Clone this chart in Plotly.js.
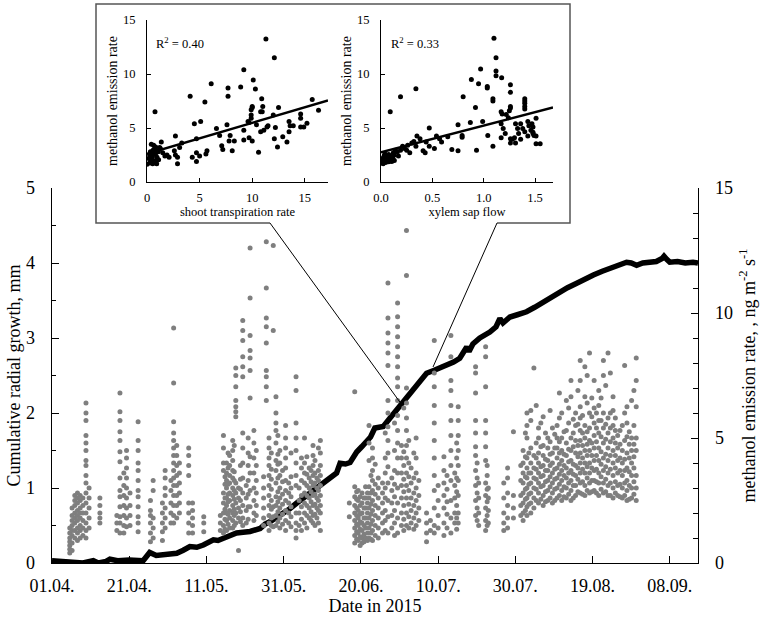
<!DOCTYPE html>
<html>
<head>
<meta charset="utf-8">
<script src="https://cdn.plot.ly/plotly-3.0.1.min.js"></script>
<style>
html,body{margin:0;padding:0;background:#fff;}
#chart{width:765px;height:622px;}
</style>
</head>
<body>
<div id="chart"></div>
<script>
// ---------- main chart data ----------
// days counted from 01.04.2015
const tickDays = [0, 20, 40, 60, 80, 100, 120, 140, 160];
const tickLabels = ["01.04.", "21.04.", "11.05.", "31.05.", "20.06.", "10.07.", "30.07.", "19.08.", "08.09."];

// cumulative radial growth (mm)
const growthDay = [0,2,5,8,10.7,12,14,15,17,20,23.6,24.5,25.3,27,28.8,30.5,32.3,34,35.7,37.5,39.2,41.8,43,44.4,46,47.8,49.5,51.3,53.9,55.2,56.4,58,59.9,61.5,63.4,65,66.8,68.5,70.2,72,73.7,74.6,76,77.2,78.9,80.2,81.5,82.5,83.6,85.8,87.5,89.3,91,92.7,95,97,99,100.5,102.2,104,105.6,106.5,107.4,108,109,110.8,112,113.4,115,116,116.8,118.6,120.5,122.9,125,127.2,129.5,131.5,133.5,135.9,138,140.2,142.5,144.5,146.5,148.8,150,151.4,153,154.8,156.5,158,158.5,159.2,160,162,164,166,167.3];
const growthMm = [0.03,0.02,0.0,0.0,0.03,0.0,0.02,0.05,0.03,0.04,0.03,0.08,0.14,0.10,0.11,0.12,0.13,0.17,0.22,0.21,0.24,0.31,0.30,0.33,0.36,0.40,0.41,0.42,0.46,0.52,0.55,0.60,0.66,0.72,0.80,0.86,0.93,0.99,1.06,1.12,1.20,1.33,1.32,1.34,1.48,1.55,1.64,1.68,1.80,1.82,1.93,2.04,2.15,2.26,2.40,2.53,2.57,2.60,2.64,2.68,2.73,2.82,2.88,2.82,2.92,3.00,3.03,3.08,3.15,3.26,3.20,3.28,3.31,3.35,3.41,3.48,3.55,3.62,3.67,3.73,3.79,3.84,3.89,3.93,3.97,4.01,4.00,3.97,4.00,4.01,4.02,4.06,4.09,4.05,4.01,4.02,4.00,4.01,4.00];

// methanol emission rate (ng m-2 s-1), grouped by day column
const methDays = [4.6,5.2,5.9,6.6,7.3,8.0,8.8,9.6,12.4,16.8,17.6,18.6,19.3,20.2,22.3,25.5,26.2,28.6,29.3,30.8,31.5,32.3,33.0,35.4,36.4,39.3,43.6,44.4,45.2,46.0,46.8,47.6,48.3,49.4,50.3,51.3,52.3,54.8,55.5,56.2,57.3,58.0,59.0,60.5,61.3,63.2,64.0,65.4,66.6,67.6,68.6,69.5,77.0,78.4,79.3,80.3,81.2,82.1,83.0,84.5,85.6,87.0,88.0,89.5,90.5,91.8,93.0,94.3,97.0,98.0,99.0,100.0,101.5,103.3,104.3,105.2,109.7,110.5,112.3,113.0,117.0,118.0,119.5,122.0,123.0,124.0,124.8,126.0,127.2,128.4,129.6,130.8,132.0,133.2,134.4,135.6,136.8,138.0,139.2,140.4,141.6,142.8,144.0,145.3,146.5,147.7,148.9,150.1,151.3,
  121.4,122.6,123.5,125.4,126.6,127.8,129.0,130.2,131.4,132.6,133.8,135.0,136.2,137.4,138.6,139.8,141.0,142.2,143.4,144.6,145.9,147.1,148.3,149.5,150.7,
  44.8,45.6,47.2,48.8,50.8,52.9,56.8,58.5,59.7,61.9,64.6,66.0,67.1,68.1,69.0,78.9,79.8,80.8,81.7,82.6,83.7,86.3,88.7,91.1,92.4,93.7,95.0,102.3,104.8,110.1,112.7];
const methVals = [
[0.4,0.55,0.7,0.85,1.0,1.2,1.4],
[0.5,0.8,1.1,1.3,1.5,1.7,1.9,2.2],
[1.0,1.3,1.6,1.8,2.0,2.3,2.5,2.7],
[0.9,1.2,1.4,1.7,1.9,2.1,2.4,2.6,2.8],
[1.0,1.3,1.5,1.8,2.0,2.2,2.5,2.7],
[1.1,1.4,1.7,2.0,2.3,2.6],
[1.0,1.3,1.6,2.0,2.4,2.8,3.2,3.5,3.9,4.1,4.5,4.8,5.1,5.7,6.0,6.4],
[1.4,1.8,2.2,2.6,3.0],
[1.6,1.8,2.0,2.3,2.6],
[1.3,1.6,1.9],
[1.2,1.6,1.85,2.25,2.65,2.9,3.4,4.05,4.45,4.9,5.25,5.7,6.05,6.8],
[1.2,1.5,1.9,2.3,2.7,3.1,3.6],
[1.45,1.8,2.2,2.6,3.0,3.4,3.8,4.2,4.5],
[1.5,1.9,2.3,2.8],
[1.25,1.6,1.85,2.25,2.65,2.9,3.3,3.7,4.0,4.5,4.9,5.65],
[0.85,1.2,1.6,1.9,2.1,2.5],
[1.0,1.4,1.8,2.9,3.3],
[0.9,1.25,1.6,2.0,2.4],
[1.4,1.8,2.2,2.7,3.0,3.4,3.7],
[1.6,2.0,2.4,2.9,3.3],
[1.6,1.9,2.3,2.7,3.1,3.4,3.7,4.0,4.3,4.6,4.9,5.2,5.65,7.2,9.4],
[1.8,2.3,2.7,3.1,3.5,3.9,4.3,4.7],
[2.0,2.4,2.8,3.2,3.6,4.0],
[1.2,1.6,2.0,2.4,3.5,3.9,4.3,4.6],
[1.2,1.5,1.8,2.1,2.4],
[1.25,1.6,1.85],
[1.3,1.6,1.9],
[1.2,1.5,2.0,2.4,2.8,3.7,4.0,4.6,5.1],
[1.3,1.7,2.0,2.3,2.6,3.0,3.3,3.6,4.0],
[1.4,1.8,2.1,2.5,2.8,3.2,3.5,3.9,4.3],
[1.4,1.7,2.0,2.3,2.7,3.0,3.4,3.7,4.1,4.5,4.9],
[1.6,2.0,2.4,2.8,3.2,5.85,6.05,6.25,6.5,7.05,7.5,7.8],
[0.5,1.8,2.2,2.6,3.0],
[1.5,1.8,2.3,2.8,3.4,4.0,4.6,5.2,7.45,7.85,8.25,8.9,9.3,9.7],
[1.6,2.1,2.6,3.1],
[2.25,2.9,3.6,4.25,6.6,7.7,8.2,8.5,9.1,10.6,12.6],
[1.7,2.0,2.5,3.0,3.6,4.2,4.8,5.3],
[1.5,1.8,2.2,2.6,3.0,3.45],
[6.5,7.05,7.45,7.7,8.8,9.45,9.8,11.0,12.85],
[1.3,1.6,1.9,2.3,2.7,3.1,3.5,3.9,4.2,4.6,5.0],
[1.45,1.85,2.25,9.3,12.7],
[1.5,1.9,2.3,2.65,3.2,3.7,4.1,4.8,5.3,5.6,6.0,6.65],
[1.4,1.8,2.2,2.6,3.0,3.5,4.0,4.5],
[1.3,1.7,2.1,2.5,2.9,3.3,3.8,4.2,4.6,5.0,5.5],
[1.6,2.0,2.4,2.8,3.2],
[1.0,1.3,1.6,2.0,3.1,3.5,4.0,4.5,5.0,5.6,6.9,7.45],
[1.5,2.0,2.5,3.0],
[1.6,2.0,2.4,2.8,3.2,3.6,4.0,5.0],
[1.8,2.2,2.6,3.0,3.4,3.8],
[1.6,1.9,2.3,2.7,3.1,3.5,3.9,4.3,4.7],
[1.8,2.2,2.6,3.0,3.4],
[1.3,2.0,2.3,2.7,3.1,3.5,3.9,4.4,4.9],
[1.85,2.4],
[0.8,1.1,1.4,1.7,2.0,2.3,2.65,3.05,6.85],
[0.9,1.2,1.5,1.8,2.1,2.5,2.9],
[0.8,1.0,1.3,1.6,2.0,2.4,2.8],
[1.0,1.4,1.8,2.2,2.6,3.05],
[1.0,1.4,1.8,2.2,2.6,3.05,4.1,4.8,5.5],
[0.9,1.3,1.7,2.1,2.5,2.9,3.3,3.7,4.2,4.6],
[1.0,1.4,1.8,2.2,2.6,3.0,3.4],
[1.2,1.6,2.0,2.4,2.8,3.2],
[1.2,1.85,2.5,3.2,3.85,4.4,4.9,5.45,6.0,6.5,7.9,8.4,8.8,9.2,9.8,11.2],
[1.4,1.9,2.4,2.9,3.4],
[1.2,1.8,2.4,3.0,3.6,4.2,4.8,5.3,5.9,6.5,7.05,7.4,7.85,8.25,8.65,9.05,9.45,9.85,10.4],
[1.5,2.0,2.6,3.1,3.6,4.2,4.7],
[1.5,2.0,2.6,3.1,3.6,4.2,4.7,5.3,5.8,6.4,7.0,11.5,13.3],
[1.6,2.1,2.6,3.2,3.8],
[1.5,2.0,2.5,3.0,3.6,4.2,5.0],
[0.85,1.2,1.6,2.0],
[1.3,1.7],
[1.2,1.5,2.2,2.9,3.5,4.2,4.9,5.6,6.3,7.05,7.6,8.9],
[1.4,1.9,2.5,3.1],
[1.1,1.6,2.2,2.7,3.2,3.7,4.25],
[1.2,1.8,2.5,3.3,3.9,4.5,5.1,5.7,6.3,6.9,7.3,8.25,9.1],
[1.6,2.0,2.6,3.1,3.6],
[1.6,2.0,2.7,3.3,3.9,4.5,5.1,5.7,6.25],
[1.9,2.5,3.1,3.7,4.3,4.65,5.2,5.7,6.8,7.6,7.85],
[1.5,2.0,2.6,3.2],
[1.3,1.7,2.2,2.7,3.2,4.1,4.65,5.2,5.7,7.05,8.25,8.65],
[1.6,2.1,2.6,3.0],
[1.3,1.6,2.0,2.6,3.2],
[1.4,1.8,2.3,2.8,3.4,3.8],
[1.8,2.2,2.7,5.25],
[1.7,2.0,2.4,2.8,3.2,3.6,4.0,4.5],
[1.9,2.25,2.6,3.0,3.4,3.8,4.2,5.0,5.5,6.0],
[2.0,2.4,2.8,3.2,3.6,4.0,4.6,5.7,6.1],
[2.2,2.6,3.0,3.4,3.8,4.3,7.8],
[2.4,2.8,3.2,3.6,4.0,4.4,5.0,5.4],
[2.3,2.7,3.1,3.5,3.9,4.3,4.7,5.85],
[2.5,2.9,3.3,3.7,4.1,4.6,5.0],
[2.4,2.8,3.2,3.6,4.0,4.4,5.4],
[2.6,3.0,3.4,3.8,4.2,4.6,5.0,5.5],
[2.5,2.9,3.3,3.7,4.1,4.5,5.0,6.0],
[2.6,3.0,3.4,3.8,4.3,4.8,5.3,6.5],
[2.5,2.9,3.3,3.7,4.1,4.5,5.0,6.65,7.3],
[2.7,3.1,3.5,3.9,4.4,4.9,5.5,6.0],
[2.8,3.2,3.6,4.0,4.4,4.9,5.3,5.8,6.25,7.3,8.1],
[2.7,3.1,3.6,4.0,4.5,5.0,5.5,6.65,7.85],
[2.8,3.2,3.6,4.0,4.5,4.9,5.4,6.0,8.4],
[2.9,3.3,3.7,4.1,4.6,5.1,5.6,6.2,7.3],
[2.7,3.2,3.6,4.1,4.6,5.2,5.7,6.3,6.9],
[2.8,3.2,3.7,4.2,4.8,5.4,6.0,7.5,8.1],
[2.7,3.1,3.6,4.1,4.6,5.2,5.8,8.4],
[2.6,3.0,3.5,4.0,4.5,5.0,5.5,6.1,6.65],
[2.7,3.1,3.6,4.1,4.6,5.1],
[2.6,3.0,3.5,4.0,4.5,5.5],
[2.5,2.9,3.3,3.8,4.4,5.05,5.6,6.25],
[2.6,3.0,3.5,4.0,4.5,5.0,6.5],
[2.5,3.0,3.5,4.5,5.0,6.25,7.3,8.2],
// extra columns, late July - August
[1.9,2.3,2.7,3.3,3.9],
[2.1,2.55,2.95,3.45,4.25,5.2],
[2.35,2.75,3.15,3.6,4.4],
[2.5,2.95,3.35,3.75,4.2,4.8,6.3],
[2.55,3.05,3.45,3.85,4.65,5.6],
[2.45,2.85,3.25,3.7,4.15,5.2],
[2.6,3.05,3.45,3.9,4.35,4.85,6.1],
[2.5,2.95,3.35,3.75,4.6,5.15],
[2.7,3.15,3.55,3.95,4.4,4.85,5.8,6.8],
[2.65,3.05,3.5,3.9,4.35,5.25],
[2.75,3.2,3.6,4.05,4.55,5.6,6.2],
[2.6,3.1,3.55,3.95,4.65,5.2,5.75],
[2.85,3.35,3.8,4.25,4.7,5.55,6.9],
[2.75,3.25,3.75,4.2,4.7,5.2,5.9],
[2.9,3.4,3.85,4.3,4.75,5.25,6.4,7.5],
[2.85,3.3,3.8,4.3,4.8,5.85,6.6],
[2.8,3.25,3.75,4.3,4.85,5.4,6.0],
[2.95,3.45,3.95,4.45,5.05,5.7,6.6],
[2.85,3.35,3.85,4.35,4.95,5.55,7.1],
[2.7,3.2,3.75,4.3,4.85,5.4,6.0,7.6],
[2.8,3.25,3.8,4.3,4.8,5.3,5.8],
[2.65,3.15,3.7,4.2,4.75,5.3],
[2.7,3.2,3.7,4.15,4.9,6.0,7.9],
[2.55,3.1,3.65,4.2,4.75,5.25],
[2.75,3.25,3.8,4.25,4.75,5.5,6.9],
// extra columns, May - July
[1.35,1.75,2.15,2.6,3.15,3.45],
[1.55,1.95,2.45,2.75,3.15,3.8,4.4],
[1.5,1.9,2.15,2.55,2.9,3.3,3.65,4.7],
[1.65,2.05,2.5,2.95,3.35,3.9],
[1.75,2.25,2.75,3.3,3.9,4.4,5.0],
[1.9,2.3,2.8,3.3,3.9,4.5],
[1.5,1.8,2.15,2.5,2.95,3.35,3.75,4.4],
[1.65,2.05,2.45,2.85,3.4,3.95,4.35,5.1],
[1.55,1.95,2.35,2.75,3.25,3.7],
[1.45,1.85,2.25,2.65,3.0,3.45,4.4],
[1.3,1.75,2.25,2.7,3.3,3.8,4.2],
[1.4,1.9,2.3,2.7,3.1,3.55,4.25],
[1.7,2.05,2.45,2.85,3.25,3.7],
[1.5,1.95,2.35,2.75,3.2,3.6,4.1],
[1.6,2.1,2.5,2.9,3.3,3.7,4.6],
[0.95,1.25,1.55,1.9,2.2,2.55,2.85],
[0.7,1.05,1.35,1.65,1.95,2.3,2.65],
[0.85,1.15,1.5,1.8,2.2,2.6],
[0.9,1.2,1.6,2.0,2.4,2.8],
[0.95,1.2,1.55,1.95,2.35,2.8,3.5],
[1.1,1.5,1.9,2.3,2.75,3.15,3.95],
[1.3,1.7,2.1,2.6,3.0,3.6,4.2,5.2],
[1.1,1.6,2.1,2.65,3.15,3.7,4.5,5.6],
[1.3,1.75,2.3,2.85,3.35,3.9,4.45,6.2],
[1.4,1.85,2.35,2.9,3.45,4.0,4.9],
[1.35,1.8,2.3,2.8,3.4,4.4],
[1.7,2.2,2.7,3.3],
[1.4,1.95,2.45,2.95,3.5],
[1.35,1.8,2.3,2.85,3.4,4.2,4.8],
[1.7,2.2,2.8,3.4,4.0],
[1.5,1.9,2.45,2.95,3.5,3.9]
];

// ---------- inset data ----------
const transpX = [11.3,12.1,9.2,10.1,6.1,7.7,8.9,10.3,4.1,7.7,5.5,10.9,11.0,10.0,10.0,9.9,15.7,16.3,0.76,12.5,10.8,10.95,9.9,12.0,14.6,9.9,9.7,4.5,5.1,7.6,6.6,9.6,10.4,11.4,11.5,12.2,13.5,13.6,14.6,14.6,13.9,14.9,15.2,10.8,11.1,13.5,9.2,7.9,6.9,4.7,9.7,10.0,9.2,12.1,12.9,7.8,8.3,7.1,13.3,12.4,7.2,5.7,5.6,8.1,10.6,2.7,3.1,2.9,2.9,4.3,5.0,4.7,4.7,2.6,2.7,1.9,2.1,1.36,1.2,3.3,0,0.25,0.47,0.41,0.63,0.57,0.32,0.8,0.95,1.1,0.25,0.5,0.7,0.92,1.08,1.27,1.5,1.7,0.73,0.82,0.38,0.54,0.16,0.6,0.45,1.0,0.3,0.85];
const transpY = [13.25,11.5,10.4,9.45,9.1,8.7,8.8,8.6,7.95,7.95,7.4,7.7,7.0,6.9,7.0,6.7,7.65,6.65,6.5,6.9,6.5,6.5,6.2,6.2,6.3,5.9,5.5,5.4,5.6,5.3,4.95,5.6,5.3,5.1,5.2,5.05,5.6,5.2,5.9,5.1,5.2,5.1,5.45,4.65,4.8,4.65,4.8,4.3,4.3,4.0,4.1,3.8,3.9,4.0,4.2,3.8,3.8,3.35,3.7,3.25,3.0,2.9,2.6,2.9,2.75,4.25,3.2,2.3,1.7,2.3,2.4,2.7,1.9,2.9,2.5,2.5,2.3,3.7,3.2,3.6,1.65,1.75,2.07,3.5,3.4,2.95,2.8,2.55,2.3,2.07,2.5,2.3,1.85,1.7,2.8,3.1,2.7,2.4,3.1,3.25,1.85,1.7,2.17,2.6,2.45,2.9,2.2,2.0];
const transpFitX = [0, 17.2];
const transpFitY = [2.6, 7.55];

const sapX = [1.10,1.12,1.12,1.12,0.97,0.88,0.95,1.035,1.035,1.175,1.26,1.26,0.34,0.19,0.92,0.80,1.09,1.09,1.26,1.26,1.25,1.40,1.40,1.40,1.40,1.40,1.17,1.18,1.22,1.24,0.09,0.99,0.75,0.87,0.79,0.79,0.65,0.69,0.75,0.93,1.04,1.09,1.17,1.19,1.21,1.17,1.26,1.26,1.31,1.33,1.34,1.30,1.36,1.38,1.40,1.36,1.43,1.44,1.46,1.48,1.43,1.48,1.47,1.48,1.31,1.28,1.51,1.51,1.51,1.49,1.55,0.47,0.54,0.35,0.38,0.30,0.32,0.34,0.41,0.47,0.52,0.19,0.21,0.23,0.14,0.16,0.005,0.02,0.035,0.05,0.06,0.075,0.09,0.10,0.115,0.13,0.01,0.045,0.075,0.105,0.13,0.03,0.25,0.28,0.26,0.44,0.57,0.59,0.43,0.12,0.04,0.17,0.02];
const sapY = [13.3,11.5,10.27,9.84,10.46,9.5,9.1,8.85,8.7,9.66,9.0,8.3,8.64,7.9,6.9,7.9,7.7,7.5,7.0,6.85,6.6,7.7,7.5,7.3,7.0,6.75,6.5,6.3,6.25,5.95,6.5,5.6,5.3,5.5,4.3,4.15,4.2,3.0,2.9,2.95,4.3,3.3,5.4,4.95,4.5,4.1,4.0,3.6,5.4,4.95,4.5,4.1,5.4,4.95,4.65,3.95,5.6,5.2,4.8,4.6,4.25,5.1,5.4,4.5,3.6,3.95,3.55,5.9,4.25,4.3,3.55,5.0,4.25,4.25,4.0,3.6,3.75,3.3,2.9,3.3,3.1,2.95,3.3,3.1,2.95,2.8,1.75,2.2,2.5,1.9,2.2,2.55,2.1,2.35,2.2,2.5,2.0,1.8,1.88,1.9,2.0,2.4,2.95,2.7,3.4,3.7,4.0,3.7,2.7,2.7,2.6,2.4,1.7];
const sapFitX = [0, 1.675];
const sapFitY = [2.75, 6.9];

// ---------- build ----------
const methX = [], methY = [];
methDays.forEach((d, i) => methVals[i].forEach(v => { methX.push(d); methY.push(v); }));

const W = 765, H = 622;
const px = x => x / W;          // pixel -> paper x
const py = y => 1 - y / H;      // pixel -> paper y
const SERIF = "Liberation Serif, Times New Roman, serif";

const traces = [
  {x: growthDay, y: growthMm, mode: "lines", line: {color: "#000", width: 5.5}, xaxis: "x", yaxis: "y", hoverinfo: "skip"},
  {x: methX, y: methY, mode: "markers", marker: {color: "#7f7f7f", size: 5}, xaxis: "x", yaxis: "y2", hoverinfo: "skip"},
  {x: transpX, y: transpY, mode: "markers", marker: {color: "#000", size: 5}, xaxis: "x2", yaxis: "y3"},
  {x: transpFitX, y: transpFitY, mode: "lines", line: {color: "#000", width: 2.5}, xaxis: "x2", yaxis: "y3"},
  {x: sapX, y: sapY, mode: "markers", marker: {color: "#000", size: 5}, xaxis: "x3", yaxis: "y4"},
  {x: sapFitX, y: sapFitY, mode: "lines", line: {color: "#000", width: 2.5}, xaxis: "x3", yaxis: "y4"}
];

const mainFont = {family: SERIF, size: 18, color: "#000"};
const insetFont = {family: SERIF, size: 12.5, color: "#000"};
const insetYTitleFont = {family: SERIF, size: 14, color: "#000"};

const insetY = {
  range: [0, 15], tickvals: [0, 5, 10, 15], showline: true, linecolor: "#000", linewidth: 1,
  ticks: "inside", ticklen: 4, tickcolor: "#000", showgrid: false, zeroline: false,
  tickfont: insetFont, ticklabelstandoff: 8,
  title: {text: "methanol emission rate", font: insetYTitleFont, standoff: 2},
  domain: [py(182), py(20)]
};
const insetXBase = {
  showline: true, linecolor: "#000", linewidth: 1, ticks: "inside", ticklen: 4, tickcolor: "#000",
  showgrid: false, zeroline: false, tickfont: insetFont, ticklabelstandoff: 4
};

const layout = {
  width: W, height: H,
  margin: {l: 0, r: 0, t: 0, b: 0, pad: 0},
  paper_bgcolor: "#fff", plot_bgcolor: "rgba(0,0,0,0)",
  showlegend: false,
  font: {family: SERIF, color: "#000"},
  xaxis: {
    domain: [px(52), px(698)], range: [0, 167.3], anchor: "y",
    tickvals: tickDays, ticktext: tickLabels,
    ticks: "inside", ticklen: 7, tickcolor: "#000",
    showline: true, linecolor: "#000", linewidth: 1.3, showgrid: false, zeroline: false,
    tickfont: mainFont, ticklabelstandoff: 6,
    title: {text: "Date in 2015", font: mainFont, standoff: 4}
  },
  yaxis: {
    domain: [py(563), py(188)], range: [0, 5], anchor: "x",
    tickvals: [0, 1, 2, 3, 4, 5], ticks: "inside", ticklen: 7, tickcolor: "#000",
    minor: {dtick: 0.5, ticks: "inside", ticklen: 4, tickcolor: "#000"},
    showline: true, linecolor: "#000", linewidth: 1.3, showgrid: false, zeroline: false,
    tickfont: mainFont, ticklabelstandoff: 12,
    title: {text: "Cumulative radial growth, mm", font: mainFont, standoff: 0}
  },
  yaxis2: {
    overlaying: "y", side: "right", anchor: "x", range: [0, 15],
    tickvals: [0, 5, 10, 15], ticks: "inside", ticklen: 7, tickcolor: "#000",
    minor: {dtick: 1, ticks: "inside", ticklen: 5, tickcolor: "#000"},
    showline: true, linecolor: "#000", linewidth: 1.3, showgrid: false, zeroline: false,
    tickfont: mainFont, ticklabelstandoff: 12,
    title: {text: "methanol emission rate, , ng m<sup>-2</sup> s<sup>-1</sup>", font: mainFont, standoff: 10}
  },
  xaxis2: Object.assign({}, insetXBase, {
    domain: [px(147), px(328)], range: [0, 17.2], anchor: "y3", tickvals: [0, 5, 10, 15],
    title: {text: "shoot transpiration rate", font: insetFont, standoff: 2}
  }),
  yaxis3: Object.assign({}, insetY, {anchor: "x2"}),
  xaxis3: Object.assign({}, insetXBase, {
    domain: [px(381), px(553)], range: [0, 1.675], anchor: "y4",
    tickvals: [0, 0.5, 1.0, 1.5], tickformat: ".1f",
    title: {text: "xylem sap flow", font: insetFont, standoff: 2}
  }),
  yaxis4: Object.assign({}, insetY, {anchor: "x3", domain: [py(182), py(20)]}),
  annotations: [
    {xref: "paper", yref: "paper", x: px(154), y: py(43), xanchor: "left", yanchor: "middle",
     text: "R<sup>2</sup> = 0.40", showarrow: false, font: insetFont},
    {xref: "paper", yref: "paper", x: px(389), y: py(43), xanchor: "left", yanchor: "middle",
     text: "R<sup>2</sup> = 0.33", showarrow: false, font: insetFont}
  ],
  shapes: [
    {type: "path", xref: "paper", yref: "paper", layer: "above",
     path: `M ${px(270)} ${py(223)} L ${px(96)} ${py(223)} L ${px(96)} ${py(4)} L ${px(570)} ${py(4)} L ${px(570)} ${py(223)} L ${px(497)} ${py(223)}`,
     line: {color: "#555", width: 1.5}},
    {type: "line", xref: "paper", yref: "paper", layer: "above",
     x0: px(270), y0: py(223), x1: px(402), y1: py(405), line: {color: "#000", width: 1}},
    {type: "line", xref: "paper", yref: "paper", layer: "above",
     x0: px(497), y0: py(223), x1: px(433), y1: py(367), line: {color: "#000", width: 1}}
  ]
};

Plotly.newPlot("chart", traces, layout, {displayModeBar: false, staticPlot: true});
</script>
</body>
</html>
